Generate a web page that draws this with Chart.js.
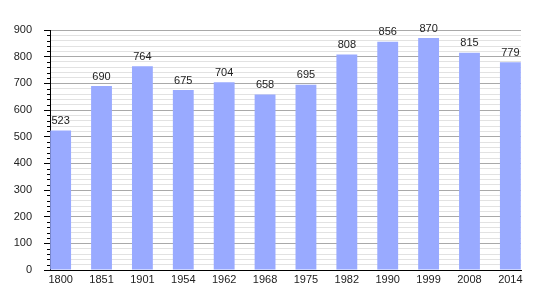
<!DOCTYPE html>
<html>
<head>
<meta charset="utf-8">
<script src="https://cdn.jsdelivr.net/npm/chart.js@4"></script>
<style>
  body { margin: 0; background: #fff; }
  #wrap { width: 550px; height: 300px; }
</style>
</head>
<body>
<div id="wrap"><canvas id="myChart" width="550" height="300"></canvas></div>
<script>
const years = ["1800", "1851", "1901", "1954", "1962", "1968", "1975", "1982", "1990", "1999", "2008", "2014"];
const population = [523, 690, 764, 675, 704, 658, 695, 808, 856, 870, 815, 779];
const yMax = 900;

const font = { family: "'Liberation Sans', Arial, sans-serif", size: 11 };

// value labels over the bars
const barLabels = {
  id: "barLabels",
  afterDatasetsDraw(chart) {
    const ctx = chart.ctx;
    const meta = chart.getDatasetMeta(0);
    ctx.save();
    ctx.font = font.size + "px " + font.family;
    ctx.fillStyle = "#222";
    ctx.textAlign = "center";
    ctx.textBaseline = "bottom";
    meta.data.forEach((bar, i) => {
      ctx.fillText(population[i], bar.x, bar.y - 4);
    });
    ctx.restore();
  },
};

// short minor ticks on the y axis
const minorTicks = {
  id: "minorTicks",
  afterDraw(chart) {
    const y = chart.scales.y;
    const ctx = chart.ctx;
    ctx.save();
    ctx.strokeStyle = "#000";
    ctx.lineWidth = 1;
    ctx.beginPath();
    for (let v = 0; v <= yMax; v += 20) {
      if (v % 100 === 0) continue;
      const py = Math.round(y.getPixelForValue(v)) + 0.5;
      ctx.moveTo(y.right - 3, py);
      ctx.lineTo(y.right, py);
    }
    ctx.stroke();
    ctx.restore();
  },
};

new Chart(document.getElementById("myChart"), {
  type: "bar",
  data: {
    datasets: [
      {
        data: population.map((v, i) => ({ x: i, y: v })),
        backgroundColor: "#99aaff",
        borderWidth: 0,
        barPercentage: 0.51,
        categoryPercentage: 1,
      },
    ],
  },
  options: {
    responsive: false,
    animation: false,
    layout: { padding: { left: 0, right: 29, top: 30, bottom: 0 } },
    plugins: { legend: { display: false }, tooltip: { enabled: false } },
    scales: {
      x: {
        type: "linear",
        offset: false,
        min: -0.26,
        max: 11.26,
        afterBuildTicks: (scale) => {
          scale.ticks = years.map((_, i) => ({ value: i }));
        },
        afterFit: (scale) => {
          scale.height = 30;
        },
        grid: { display: false, drawTicks: false, offset: false },
        border: { display: true, color: "#000", width: 1 },
        ticks: {
          autoSkip: false,
          maxRotation: 0,
          padding: 3,
          color: "#222",
          font: font,
          callback: (v) => years[v],
        },
      },
      y: {
        min: 0,
        max: yMax,
        afterFit: (scale) => {
          scale.width = 50;
        },
        grid: {
          color: (c) => (c.tick && c.tick.value % 100 === 0 ? "#a9a9a9" : "#e2e2e2"),
          tickColor: (c) => (c.tick && c.tick.value % 100 === 0 ? "#000" : "rgba(0,0,0,0)"),
          tickLength: 6,
        },
        border: { display: true, color: "#000", width: 1 },
        ticks: {
          stepSize: 20,
          autoSkip: false,
          padding: 12,
          color: "#222",
          font: font,
          callback: (v) => (v % 100 === 0 ? v : ""),
        },
      },
    },
  },
  plugins: [barLabels, minorTicks],
});
</script>
</body>
</html>
